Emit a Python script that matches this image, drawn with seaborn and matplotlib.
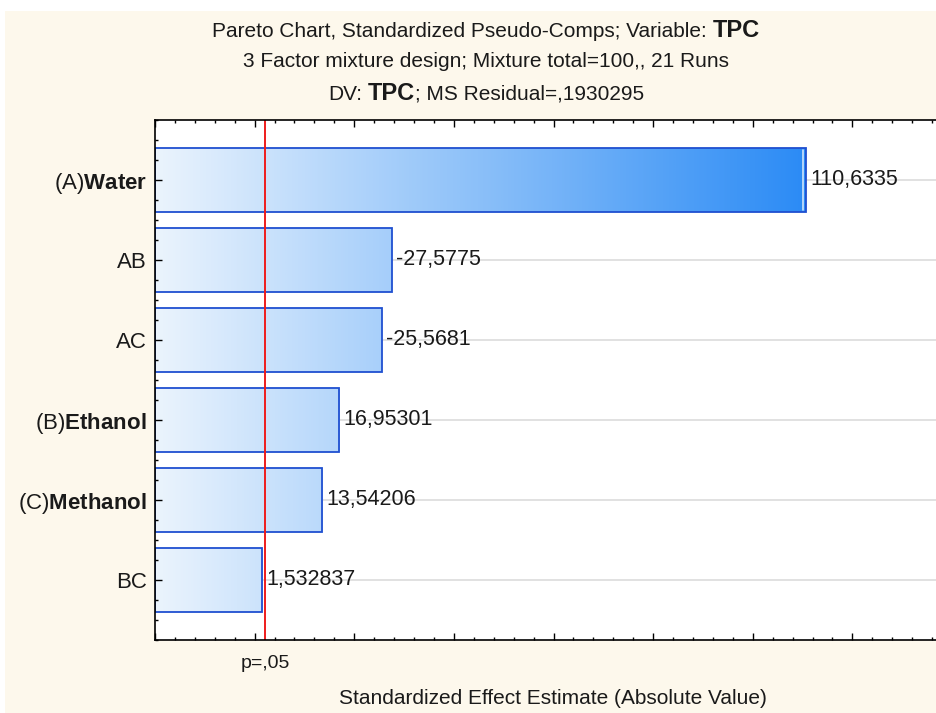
import numpy as np
import pandas as pd
import matplotlib
matplotlib.use("Agg")
import matplotlib.pyplot as plt
import seaborn as sns
from matplotlib.colors import LinearSegmentedColormap
from matplotlib.ticker import MultipleLocator
from matplotlib.patches import Rectangle

# ---------------- data ----------------
effects = ["(A)Water", "AB", "AC", "(B)Ethanol", "(C)Methanol", "BC"]
effect_labels = [r"(A)$\mathbf{Water}$", "AB", "AC",
                 r"(B)$\mathbf{Ethanol}$", r"(C)$\mathbf{Methanol}$", "BC"]
abs_effects = [110.6335, 27.5775, 25.5681, 16.95301, 13.54206, 1.532837]
value_labels = ["110,6335", "-27,5775", "-25,5681", "16,95301", "13,54206", "1,532837"]
p_crit = 2.131
p_label = "p=,05"
x_label = "Standardized Effect Estimate (Absolute Value)"

# ---------------- style ----------------
sns.set_theme(style="white")
plt.rcParams["font.family"] = ["Liberation Sans", "DejaVu Sans"]
plt.rcParams["mathtext.fontset"] = "custom"
plt.rcParams["mathtext.rm"] = "Liberation Sans"
plt.rcParams["mathtext.bf"] = "Liberation Sans:bold"
plt.rcParams["mathtext.it"] = "Liberation Sans:italic"

W, H = 936, 713
BG = "#FDF8EC"
TXT = "#1a1a1a"
fig = plt.figure(figsize=(W / 100, H / 100), dpi=100, facecolor=BG)
fig.patches.append(Rectangle((0, 1 - 11 / H), 1, 11 / H, transform=fig.transFigure,
                             facecolor="white", edgecolor="none", zorder=0))
fig.patches.append(Rectangle((0, 0), 5 / W, 1, transform=fig.transFigure,
                             facecolor="white", edgecolor="none", zorder=0))

ax = fig.add_axes([155 / W, 73 / H, (952 - 155) / W, 520 / H])
ax.set_facecolor("white")

xmin, xmax = -20, 140
df = pd.DataFrame({"effect": effects, "value": abs_effects})
sns.barplot(data=df, x="value", y="effect", orient="h", width=0.81, ax=ax,
            color="#8ec5f7", edgecolor="#1f4fd0", linewidth=1.3, zorder=2)

cmap = LinearSegmentedColormap.from_list("bluegrad", ["#EBF4FD", "#2B8BF5"])
grad = np.linspace(0, 1, 512).reshape(1, -1)
vmax = max(abs_effects)
for patch, v in zip(ax.patches, abs_effects):
    patch.set_x(xmin)
    patch.set_width(v - xmin)
    patch.set_facecolor("none")
    y0 = patch.get_y()
    h = patch.get_height()
    im = ax.imshow(grad, cmap=cmap, extent=[xmin, vmax, y0 + h, y0],
                   aspect="auto", zorder=1.5, interpolation="bilinear")
    im.set_clip_path(patch)

# highlight stripe inside the largest bar's right edge
ax.plot([vmax - 0.45, vmax - 0.45], [ax.patches[0].get_y() + 0.03,
        ax.patches[0].get_y() + ax.patches[0].get_height() - 0.03],
        color="#cfe4fb", lw=1.2, zorder=2.1)

ax.set_xlim(xmin, xmax)
ax.set_ylim(len(effects) - 0.25, -0.75)

# horizontal reference lines at each effect (behind bars), ticks above bars
ax.grid(False)
for i in range(len(effects)):
    ax.axhline(i, color="#d9d9d9", lw=1.1, zorder=0.5)
ax.set_axisbelow(False)

ax.axvline(p_crit, color="#ee1c1c", lw=1.4, zorder=3)

for i, (v, lab) in enumerate(zip(abs_effects, value_labels)):
    ax.annotate(lab, xy=(v, i), xytext=(3, 0), textcoords="offset points",
                ha="left", va="center", fontsize=15.5, color=TXT, zorder=4)

ax.annotate(p_label, xy=(p_crit, 0), xycoords=("data", "axes fraction"),
            xytext=(0, -11), textcoords="offset points",
            ha="center", va="top", fontsize=14, color=TXT)

# ticks
ax.xaxis.set_major_locator(MultipleLocator(20))
ax.xaxis.set_minor_locator(MultipleLocator(4))
ax.yaxis.set_minor_locator(MultipleLocator(0.25))
ax.tick_params(axis="x", which="both", direction="in", bottom=True, top=True,
               labelbottom=False, color="black", width=1)
ax.tick_params(axis="x", which="major", length=5)
ax.tick_params(axis="x", which="minor", length=2.5)
ax.tick_params(axis="y", which="both", direction="in", left=True, right=True,
               color="black", width=1)
ax.tick_params(axis="y", which="major", length=5, pad=6)
ax.tick_params(axis="y", which="minor", length=2.5)
ax.set_yticks(range(len(effects)))
ax.set_yticklabels(effect_labels, fontsize=16, color=TXT)
ax.set_ylabel("")
ax.set_xlabel(x_label, fontsize=15, color=TXT)
ax.xaxis.set_label_coords((553 - 155) / (952 - 155), -(689 - 640) / 520)

for s in ax.spines.values():
    s.set_color("black")
    s.set_linewidth(1.2)
    s.set_zorder(5)

# ---------------- titles (mixed weights) ----------------
renderer = fig.canvas.get_renderer()

def width_of(s, **kw):
    t = fig.text(0, 0, s, **kw)
    w = t.get_window_extent(renderer).width
    t.remove()
    return w

def mixed_line(y_px, pieces, cx_px=486):
    # pieces: list of (text, kwargs, gap_after_in_spaces)
    texts, widths, gaps = [], [], []
    for s, kw, gap in pieces:
        t = fig.text(0, 0, s, va="baseline", ha="left", color=TXT, **kw)
        texts.append(t)
        widths.append(t.get_window_extent(renderer).width)
        sp = width_of("x x", **kw) - width_of("xx", **kw)
        gaps.append(sp * gap)
    total = sum(widths) + sum(gaps)
    x = cx_px - total / 2
    for t, w, g in zip(texts, widths, gaps):
        t.set_position((x / W, 1 - y_px / H))
        x += w + g

normal = dict(fontsize=15)
bold = dict(fontsize=17, fontweight="bold")
mixed_line(37, [("Pareto Chart, Standardized Pseudo-Comps; Variable:", normal, 1),
                ("TPC", bold, 0)])
fig.text(486 / W, 1 - 67 / H, "3 Factor mixture design; Mixture total=100,, 21 Runs",
         ha="center", va="baseline", color=TXT, fontsize=15)
mixed_line(100, [("DV:", normal, 1), ("TPC", bold, 0),
                 ("; MS Residual=,1930295", normal, 0)])

fig.savefig("out.png", dpi=100, facecolor=BG)
